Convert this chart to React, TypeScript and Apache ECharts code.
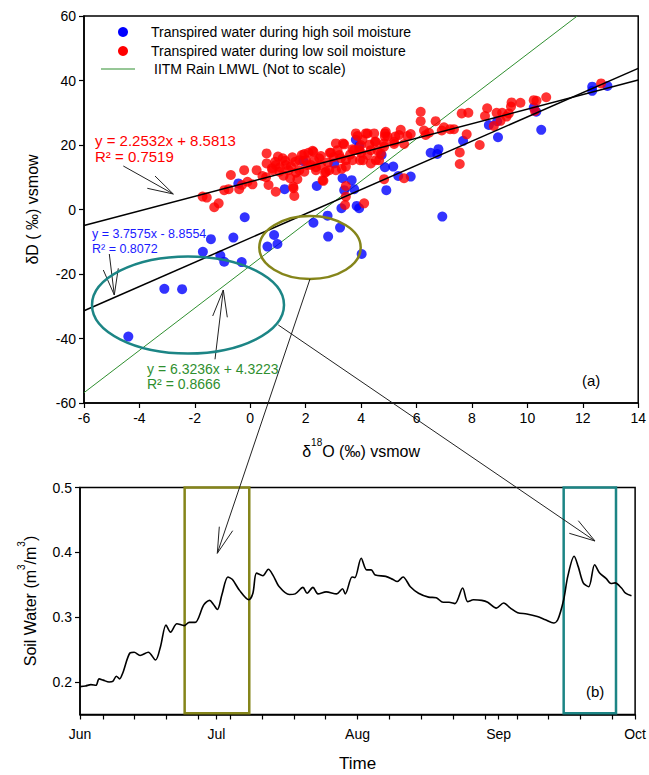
import React, { useEffect, useRef } from "react";
import * as echarts from "echarts";

// ---------- DATA ----------
// Transpired water during high soil moisture (blue): [δ18O, δD]
const highMoisture: [number, number][] = [
  [-4.4, -39.4], [-3.1, -24.6], [-2.46, -24.7], [-1.71, -13.1], [-1.42, -9.2],
  [-1.08, -14.3], [-0.94, -16.2], [-0.61, -8.7], [-0.31, -16.3], [-0.2, -2.4],
  [-0.43, 8.1], [0.62, -11.5], [0.86, -7.9], [0.98, -10.7], [1.24, 6.3],
  [2.28, -4.1], [2.79, -1.9], [2.81, -8.4], [3.24, -5.6], [4.02, -13.8],
  [2.4, 7.3], [3.03, 14.3], [3.33, 9.7], [3.66, 9.1], [3.39, 6.0],
  [3.75, 6.3], [3.29, 0.4], [3.84, 1.1], [3.93, 0.4], [3.81, 21.6],
  [3.93, 19.7], [1.92, 15.0], [4.74, 16.9], [4.86, 13.1], [5.16, 13.3],
  [4.91, 6.0], [5.34, 10.4], [5.79, 10.2], [6.93, -2.2], [6.51, 17.6],
  [6.79, 18.7], [6.75, 17.2], [7.68, 21.3], [8.61, 26.2], [8.94, 22.4],
  [8.91, 27.4], [10.23, 31.6], [10.32, 30.3], [10.5, 24.7], [12.34, 38.1],
  [12.34, 36.8], [12.89, 38.3]
];

// Transpired water during low soil moisture (red): [δ18O, δD]
const lowMoisture: [number, number][] = [
  [-1.72, 4.0], [-1.57, 3.7], [-1.3, 0.7], [-1.14, 1.9], [-0.94, 6.0],
  [-0.78, 6.3], [-0.7, 10.7], [-0.4, 6.3], [-0.3, 7.6], [-0.22, 12.2],
  [-0.1, 8.6], [0.08, 7.8], [0.23, 12.2], [0.44, 10.4], [0.59, 17.4],
  [0.66, 7.6], [0.92, 5.5], [1.59, 4.2], [1.55, 7.1], [0.57, 10.0],
  [0.8, 12.2], [0.92, 13.8], [1.07, 13.1], [1.26, 15.1], [1.47, 13.3],
  [1.52, 16.2], [1.65, 11.4], [1.77, 15.3], [1.95, 17.2], [2.06, 13.8],
  [2.25, 18.2], [2.37, 13.1], [2.55, 16.6], [2.61, 9.1], [2.73, 11.7],
  [2.87, 17.6], [3.09, 20.5], [3.21, 16.9], [3.39, 20.2], [3.45, 15.3],
  [3.45, 7.3], [3.45, 4.0], [3.42, 1.4], [3.69, 18.7], [3.87, 22.8],
  [3.99, 20.0], [4.07, 15.3], [4.11, 1.9], [4.23, 23.6], [4.35, 18.4],
  [4.47, 23.6], [4.53, 21.0], [4.65, 15.3], [4.83, 9.4], [4.89, 24.1],
  [4.95, 22.6], [5.19, 21.0], [0.59, 14.3], [0.78, 12.8], [0.9, 14.8],
  [1.05, 11.7], [1.17, 15.9], [1.29, 13.8], [1.38, 12.2], [1.44, 9.7],
  [1.56, 6.6], [1.62, 14.8], [1.7, 9.4], [1.77, 12.2], [1.86, 16.9],
  [1.95, 11.7], [2.01, 15.3], [2.1, 17.6], [2.19, 13.8], [2.28, 17.9],
  [2.37, 12.2], [2.49, 15.9], [2.55, 13.8], [2.64, 8.9], [2.7, 11.4],
  [2.85, 12.2], [2.91, 17.6], [3.09, 12.2], [3.15, 18.4], [3.27, 15.9],
  [3.35, 20.5], [3.45, 13.3], [3.69, 15.3], [3.75, 18.4], [3.81, 23.6],
  [3.93, 18.4], [3.96, 15.3], [4.05, 21.6], [4.17, 23.6], [4.23, 16.9],
  [4.35, 14.3], [4.5, 21.0], [4.53, 15.3], [4.83, 20.5], [4.86, 23.6],
  [1.0, 16.4], [2.3, 15.2], [2.8, 14.6], [3.0, 16.2], [3.6, 17.0],
  [4.0, 17.6], [4.3, 20.1], [4.6, 18.2], [3.3, 12.6], [1.2, 10.5],
  [12.66, 39.1], [10.68, 34.8], [10.23, 33.9], [10.33, 33.7], [10.27, 30.6],
  [9.75, 33.1], [9.43, 33.2], [9.41, 31.9], [9.33, 29.8], [9.25, 28.8],
  [9.09, 30.0], [8.89, 30.0], [9.03, 27.5], [8.55, 31.4], [8.47, 29.0],
  [8.79, 25.9], [7.63, 29.8], [7.87, 30.0], [7.81, 23.3], [8.28, 20.0],
  [7.56, 17.7], [7.56, 14.1], [7.35, 24.9], [7.21, 24.9], [6.99, 25.5],
  [6.91, 24.5], [6.69, 27.4], [6.15, 30.3], [6.15, 27.4], [6.27, 24.5],
  [6.33, 23.1], [6.45, 23.8], [5.79, 23.4], [5.67, 22.8], [5.43, 24.7],
  [5.37, 23.1], [5.23, 22.6], [5.55, 20.3], [5.19, 20.3], [4.86, 22.6],
  [4.83, 19.5], [4.71, 17.4], [5.55, 9.7]
];

// Regression lines: [low moisture, high moisture]
const fitSlopes = [2.2532, 3.7575];
const fitIntercepts = [8.5813, -8.8554];
// IITM rain LMWL as drawn (not to scale): endpoints
const lmwlX = [-6, 11.8];
const lmwlY = [-56.8, 60];

// Soil water time series: days since 1 June, volumetric water content
const soilDays = [
  0, 1.2, 2.4, 3.5, 4.2, 5.1, 6.4, 7.2, 8.0, 8.7, 9.4, 11.0, 11.9, 13.2, 15.0,
  16.6, 17.7, 18.9, 19.9, 21.3, 22.9, 24.0, 25.3, 27.2, 28.5, 29.3, 30.2, 31.2,
  32.5, 33.5, 35.0, 37.1, 38.0, 38.8, 40.2, 41.4, 42.4, 43.8, 46.0, 47.3, 49.0,
  49.9, 51.2, 52.3, 54.1, 56.4, 57.7, 58.3, 59.8, 60.4, 61.8, 63.0, 64.0, 64.9,
  67.2, 68.8, 69.7, 71.0, 72.6, 74.4, 76.6, 78.3, 79.8, 81.1, 82.4, 84.1, 85.2,
  86.5, 88.3, 89.6, 91.5, 93.1, 94.6, 96.2, 98.2, 100.5, 102.3, 104.1, 105.0,
  106.3, 107.2, 108.6, 109.5, 110.6, 111.8, 113.1, 114.2, 115.6, 116.7, 117.6,
  119.0, 119.9, 121.2
];
const soilWater = [
  0.193, 0.194, 0.196, 0.195, 0.205, 0.203, 0.2, 0.201, 0.209, 0.205, 0.214,
  0.245, 0.246, 0.241, 0.246, 0.234, 0.255, 0.288, 0.277, 0.29, 0.287, 0.292,
  0.292, 0.319, 0.326, 0.32, 0.312, 0.335, 0.362, 0.358, 0.342, 0.327, 0.337,
  0.368, 0.364, 0.374, 0.365, 0.347, 0.335, 0.336, 0.346, 0.337, 0.346, 0.336,
  0.339, 0.336, 0.344, 0.336, 0.362, 0.361, 0.391, 0.373, 0.373, 0.365, 0.363,
  0.358, 0.355, 0.362, 0.347, 0.337, 0.331, 0.33, 0.323, 0.323, 0.321, 0.345,
  0.324, 0.327, 0.326, 0.323, 0.314, 0.322, 0.314, 0.307, 0.305, 0.301, 0.296,
  0.291, 0.296, 0.327, 0.363, 0.394, 0.378, 0.353, 0.347, 0.381, 0.368, 0.36,
  0.352, 0.353, 0.345, 0.337, 0.333
];

const monthDays = [0, 30, 61, 92, 122];
const monthLabels = ["Jun", "Jul", "Aug", "Sep", "Oct"];
const weekTickDays = [5, 12, 19, 26, 33, 40, 47, 54, 68, 75, 82, 89, 96, 103, 110, 117];
const soilTicks = [0.2, 0.3, 0.4, 0.5];
// Highlighted periods (days since 1 June): wet-period window, late-season window
const windowStart = [23, 106.3];
const windowEnd = [37.2, 117.8];

// ---------- STYLE ----------
const FONT = "Liberation Sans, Arial, sans-serif";
const OLIVE = "#85851a";
const TEAL = "#1c8585";
const GREEN = "#2f8f2f";

export default function App() {
  const ref = useRef<HTMLDivElement>(null);

  useEffect(() => {
    if (!ref.current) return;
    const chart = echarts.init(ref.current, undefined, { renderer: "svg" });

    const fitLine = (i: number) =>
      [-6, 14].map((x) => [x, fitSlopes[i] * x + fitIntercepts[i]]);

    const axisCommon = {
      axisLine: { show: true, onZero: false, lineStyle: { color: "#000", width: 1.5 } },
      axisTick: { show: true, inside: false, length: 5, lineStyle: { color: "#000", width: 1.2 } },
      axisLabel: { color: "#000", fontSize: 14, fontFamily: FONT },
      splitLine: { show: false },
    };

    const arrowLine = (x1: number, y1: number, x2: number, y2: number) => ({
      type: "line",
      shape: { x1, y1, x2, y2 },
      style: { stroke: "#222", lineWidth: 1 },
      z: 100,
    });
    const barbs = (pts: number[][]) => ({
      type: "polyline",
      shape: { points: pts },
      style: { stroke: "#222", lineWidth: 1, fill: null },
      z: 100,
    });
    const txt = (text: string, x: number, y: number, fill: string, size: number) => ({
      type: "text",
      x,
      y,
      style: { text, fill, fontSize: size, fontFamily: FONT, align: "left", verticalAlign: "middle" },
      z: 100,
    });

    const option: any = {
      animation: false,
      backgroundColor: "#fff",
      grid: [
        { left: 84, top: 16, width: 555, height: 387, show: true, borderColor: "#000", borderWidth: 1.5, backgroundColor: "transparent" },
        { left: 80, top: 487.5, width: 561, height: 227, show: true, borderColor: "#000", borderWidth: 1.5, backgroundColor: "transparent" },
      ],
      xAxis: [
        {
          ...axisCommon,
          gridIndex: 0,
          type: "value",
          min: -6,
          max: 14,
          interval: 2,
          axisLabel: { ...axisCommon.axisLabel, margin: 8 },
          name: "{n|δ}{s|18}{n|O (‰) vsmow}",
          nameLocation: "middle",
          nameGap: 34,
          nameTextStyle: {
            rich: {
              n: { fontSize: 16, fontFamily: FONT, color: "#000", lineHeight: 22, verticalAlign: "bottom" },
              s: { fontSize: 10, fontFamily: FONT, color: "#000", lineHeight: 22, verticalAlign: "top", padding: [0, 0, 8, 0] },
            },
          },
        },
        {
          ...axisCommon,
          gridIndex: 1,
          type: "value",
          min: 0,
          max: 122,
          axisLabel: {
            ...axisCommon.axisLabel,
            margin: 12,
            customValues: monthDays,
            formatter: (v: number) => monthLabels[monthDays.indexOf(v)] ?? "",
          },
          axisTick: {
            ...axisCommon.axisTick,
            customValues: [...monthDays, ...weekTickDays].sort((a, b) => a - b),
          },
          name: "Time",
          nameLocation: "middle",
          nameGap: 40,
          nameTextStyle: { fontSize: 17, fontFamily: FONT, color: "#000" },
        },
      ],
      yAxis: [
        {
          ...axisCommon,
          gridIndex: 0,
          type: "value",
          min: -60,
          max: 60,
          interval: 20,
          name: "δD ( ‰) vsmow",
          nameLocation: "middle",
          nameGap: 44,
          nameTextStyle: { fontSize: 16, fontFamily: FONT, color: "#000" },
        },
        {
          ...axisCommon,
          gridIndex: 1,
          type: "value",
          min: 0.15,
          max: 0.5,
          axisLabel: {
            ...axisCommon.axisLabel,
            customValues: soilTicks,
            formatter: (v: number) => v.toFixed(1),
          },
          axisTick: { ...axisCommon.axisTick, customValues: soilTicks },
          name: "{n|Soil Water (m}{s|3}{n|/m}{s|3}{n|)}",
          nameLocation: "middle",
          nameGap: 42,
          nameTextStyle: {
            rich: {
              n: { fontSize: 16, fontFamily: FONT, color: "#000", lineHeight: 22, verticalAlign: "bottom" },
              s: { fontSize: 10, fontFamily: FONT, color: "#000", lineHeight: 22, verticalAlign: "top", padding: [0, 0, 8, 0] },
            },
          },
        },
      ],
      series: [
        {
          name: "Transpired water during high soil moisture",
          type: "scatter",
          xAxisIndex: 0,
          yAxisIndex: 0,
          data: highMoisture,
          symbolSize: 10,
          itemStyle: { color: "#0000ff" },
          z: 3,
        },
        {
          name: "Transpired water during low soil moisture",
          type: "scatter",
          xAxisIndex: 0,
          yAxisIndex: 0,
          data: lowMoisture,
          symbolSize: 10,
          itemStyle: { color: "#ff0000" },
          z: 4,
        },
        {
          name: "low fit",
          type: "line",
          xAxisIndex: 0,
          yAxisIndex: 0,
          data: fitLine(0),
          showSymbol: false,
          lineStyle: { color: "#000", width: 1.5 },
          z: 5,
        },
        {
          name: "high fit",
          type: "line",
          xAxisIndex: 0,
          yAxisIndex: 0,
          data: fitLine(1),
          showSymbol: false,
          lineStyle: { color: "#000", width: 1.5 },
          z: 5,
        },
        {
          name: "IITM Rain LMWL (Not to scale)",
          type: "line",
          xAxisIndex: 0,
          yAxisIndex: 0,
          data: lmwlX.map((x, i) => [x, lmwlY[i]]),
          showSymbol: false,
          lineStyle: { color: GREEN, width: 1 },
          z: 2,
        },
        {
          name: "Soil water",
          type: "line",
          xAxisIndex: 1,
          yAxisIndex: 1,
          data: soilDays.map((d, i) => [d, soilWater[i]]),
          showSymbol: false,
          smooth: 0.3,
          lineStyle: { color: "#000", width: 1.6 },
          markArea: {
            silent: true,
            data: windowStart.map((s, i) => [
              {
                xAxis: s,
                yAxis: 0.5,
                itemStyle: { color: "rgba(0,0,0,0)", borderColor: i === 0 ? OLIVE : TEAL, borderWidth: 2.5 },
              },
              { xAxis: windowEnd[i], yAxis: 0.152 },
            ]),
          },
        },
      ],
      graphic: [
        // legend
        { type: "circle", shape: { cx: 123, cy: 32, r: 5 }, style: { fill: "#0000ff" }, z: 100 },
        txt("Transpired water during high soil moisture", 151, 32, "#000", 14),
        { type: "circle", shape: { cx: 123, cy: 51, r: 5 }, style: { fill: "#ff0000" }, z: 100 },
        txt("Transpired water during low soil moisture", 151, 51, "#000", 14),
        { type: "line", shape: { x1: 101, y1: 69, x2: 135, y2: 69 }, style: { stroke: GREEN, lineWidth: 1 }, z: 100 },
        txt("IITM Rain LMWL (Not to scale)", 154, 69, "#000", 14),
        // equations
        txt("y = 2.2532x + 8.5813", 95, 140, "#ff0000", 15),
        txt("R² = 0.7519", 95, 156, "#ff0000", 15),
        txt("y = 3.7575x - 8.8554", 92, 234, "#1a1aff", 12.5),
        txt("R² = 0.8072", 92, 248.5, "#1a1aff", 12.5),
        txt("y = 6.3236x + 4.3223", 147, 368.5, GREEN, 14),
        txt("R² = 0.8666", 147, 383.5, GREEN, 14),
        txt("(a)", 582, 380, "#000", 15),
        txt("(b)", 586, 691, "#000", 15),
        // equation arrows
        arrowLine(123.3, 166, 173.3, 194),
        barbs([[147.3, 188.3], [173.3, 194], [155, 176]]),
        arrowLine(109.3, 254, 114.3, 295),
        barbs([[103.3, 270], [114.3, 295], [118.3, 268.3]]),
        arrowLine(215, 359.3, 223.3, 290),
        barbs([[212.7, 316], [223.3, 290], [227.3, 317.3]]),
        // ellipses
        { type: "ellipse", shape: { cx: 310, cy: 247.5, rx: 50.7, ry: 31.5 }, style: { stroke: OLIVE, lineWidth: 2.5, fill: null }, z: 100 },
        { type: "ellipse", shape: { cx: 188, cy: 305, rx: 96, ry: 48.5 }, style: { stroke: TEAL, lineWidth: 2.5, fill: null }, z: 100 },
        // connectors to panel (b)
        arrowLine(310, 279, 217.3, 553.3),
        barbs([[219.3, 526.7], [217.3, 553.3], [232.7, 530.7]]),
        arrowLine(278.3, 325, 595, 541),
        barbs([[578.3, 520.7], [595, 541], [569.3, 533.3]]),
      ],
    };

    chart.setOption(option);
    return () => chart.dispose();
  }, []);

  return (
    <div
      ref={ref}
      style={{ position: "fixed", left: 0, top: 0, width: 649, height: 775, background: "#fff" }}
    />
  );
}
